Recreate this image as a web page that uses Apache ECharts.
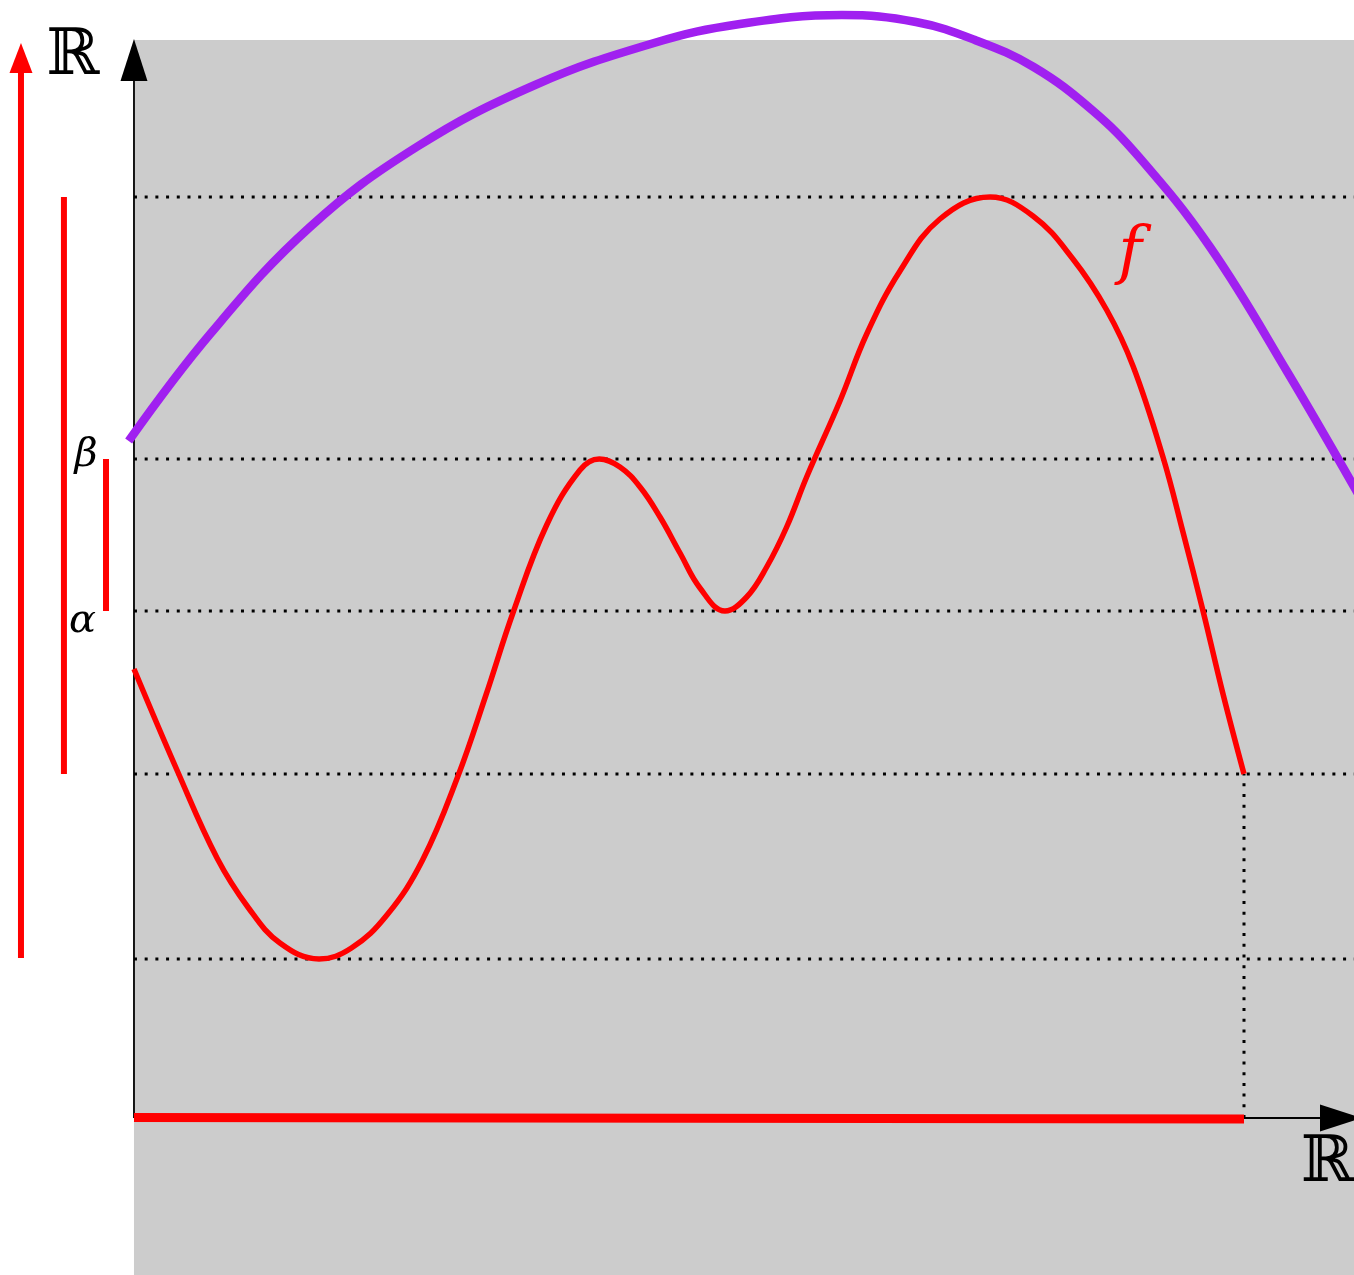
<!DOCTYPE html>
<html>
<head>
<meta charset="utf-8">
<script src="https://cdn.jsdelivr.net/npm/echarts@6/dist/echarts.min.js"></script>
<style>
  html, body { margin: 0; padding: 0; background: #ffffff; }
  #chart { width: 1354px; height: 1275px; }
</style>
</head>
<body>
<div id="chart"></div>
<script>
// Visible window of the plane (x, y in chart units)
const X_MIN = -1.207, X_MAX = 10.991;
const Y_MIN = -1.57, Y_MAX = 11.18;
const PANEL_TOP = 10.78;           // upper edge of the grey panel

// The function f on [0, 10]
const fCurve = [
  [0.000, 4.49], [0.391, 3.47], [0.748, 2.60], [1.032, 2.10], [1.315, 1.75],
  [1.667, 1.59], [1.959, 1.70], [2.279, 2.03], [2.600, 2.58], [2.919, 3.42],
  [3.171, 4.23], [3.417, 5.06], [3.718, 5.93], [4.018, 6.48], [4.192, 6.59],
  [4.378, 6.51], [4.559, 6.31], [4.739, 6.01], [4.919, 5.65], [5.099, 5.30],
  [5.324, 5.07], [5.520, 5.21], [5.700, 5.51], [5.880, 5.91], [6.060, 6.41],
  [6.360, 7.17], [6.601, 7.84], [6.901, 8.47], [7.261, 8.99], [7.712, 9.21],
  [8.099, 9.02], [8.459, 8.59], [8.763, 8.08], [9.000, 7.52], [9.270, 6.61],
  [9.450, 5.86], [9.631, 5.07], [9.811, 4.24], [10.000, 3.44]
];

// The purple arch above f
const archCurve = [
  [-0.048, 6.77], [0.694, 7.85], [1.586, 8.91], [2.546, 9.71], [3.613, 10.33],
  [4.685, 10.75], [5.459, 10.94], [6.378, 11.03], [7.045, 10.96], [7.577, 10.78],
  [8.105, 10.51], [8.631, 10.08], [9.054, 9.61], [9.694, 8.71], [10.396, 7.45],
  [11.100, 6.10]
];

// Dotted reference levels: max, beta, alpha, f(b), min
const levels = [9.21, 6.59, 5.07, 3.44, 1.59];
const domainEnd = 10;              // right end b of the domain
const fAtEnd = 3.44;

// Intervals drawn beside the vertical axis
const rangeBar = { x: -0.631, from: 3.44, to: 9.21 };
const alphaBetaBar = { x: -0.252, from: 5.07, to: 6.59 };
const redArrow = { x: -1.018, from: 1.60, to: 10.50, head: 10.60 };

// Labels
const labels = [
  { name: '\u211D', value: [-0.55, 10.61], color: '#000000', size: 64, italic: false },
  { name: '\u211D', value: [10.75, -0.46], color: '#000000', size: 64, italic: false },
  { name: '\u03B2', value: [-0.432, 6.62], color: '#000000', size: 40, italic: true },
  { name: '\u03B1', value: [-0.464, 4.96], color: '#000000', size: 40, italic: true },
  { name: 'f', value: [8.973, 8.63], color: '#ff0000', size: 64, italic: true }
];

const RED = '#ff0000';
const PURPLE = '#a020f0';

function seg(points, color, width, extra) {
  return Object.assign({
    type: 'line', data: points, symbol: 'none', silent: true,
    lineStyle: { color: color, width: width, cap: 'butt', opacity: 1 },
    animation: false
  }, extra || {});
}

const dotted = { color: '#000000', width: 3, type: [3, 7.7], cap: 'butt', opacity: 1 };

const series = [];

// grey panel
series.push({
  type: 'line', data: [], silent: true, z: 0, animation: false,
  markArea: {
    silent: true, itemStyle: { color: '#cccccc', opacity: 1 },
    data: [[{ coord: [0, Y_MIN] }, { coord: [X_MAX, PANEL_TOP] }]]
  }
});

// dotted levels
levels.forEach(function (l) {
  series.push({ type: 'line', data: [[0, l], [X_MAX, l]], symbol: 'none', silent: true,
    animation: false, z: 1, lineStyle: dotted });
});
series.push({ type: 'line', data: [[domainEnd, 0], [domainEnd, fAtEnd]], symbol: 'none',
  silent: true, animation: false, z: 1, lineStyle: dotted });

// axes
series.push(seg([[0, 0], [0, 10.40]], '#000000', 1.8, { z: 2 }));
series.push(seg([[0, 0], [10.72, 0]], '#000000', 1.8, { z: 2 }));

// domain [0, b] on the horizontal axis
series.push(seg([[0, 0.005], [domainEnd, -0.01]], RED, 9, { z: 3 }));

// f and the arch
series.push(seg(fCurve, RED, 5.5, { smooth: 0.4, z: 4 }));
series.push(seg(archCurve, PURPLE, 8.5, { smooth: 0.4, z: 4 }));

// intervals on the left
series.push(seg([[rangeBar.x, rangeBar.from], [rangeBar.x, rangeBar.to]], RED, 6, { z: 3 }));
series.push(seg([[alphaBetaBar.x, alphaBetaBar.from], [alphaBetaBar.x, alphaBetaBar.to]], RED, 6, { z: 3 }));
series.push(seg([[redArrow.x, redArrow.from], [redArrow.x, redArrow.to]], RED, 6, { z: 3 }));

// arrow heads
series.push({
  type: 'scatter', silent: true, animation: false, z: 5,
  symbol: 'triangle',
  itemStyle: { opacity: 1 },
  data: [
    { value: [0, 10.58], symbolSize: [27, 42], symbolRotate: 0, itemStyle: { color: '#000000', opacity: 1 } },
    { value: [10.874, 0], symbolSize: [27, 42], symbolRotate: -90, itemStyle: { color: '#000000', opacity: 1 } },
    { value: [redArrow.x, redArrow.head], symbolSize: [23, 30], symbolRotate: 0, itemStyle: { color: RED, opacity: 1 } }
  ]
});

// text labels
series.push({
  type: 'scatter', silent: true, animation: false, z: 6,
  symbolSize: 0,
  itemStyle: { opacity: 1 },
  data: labels.map(function (d) {
    return {
      value: d.value,
      itemStyle: { opacity: 1 },
      label: {
        show: true, position: 'inside', formatter: d.name,
        color: d.color, opacity: 1, fontSize: d.size,
        fontStyle: d.italic ? 'italic' : 'normal',
        fontFamily: 'DejaVu Serif, Liberation Serif, serif'
      }
    };
  })
});

const chart = echarts.init(document.getElementById('chart'), null, { renderer: 'canvas' });
chart.setOption({
  backgroundColor: '#ffffff',
  animation: false,
  grid: { left: 0, right: 0, top: 0, bottom: 0 },
  xAxis: { type: 'value', min: X_MIN, max: X_MAX, show: false },
  yAxis: { type: 'value', min: Y_MIN, max: Y_MAX, show: false },
  series: series
});
</script>
</body>
</html>
